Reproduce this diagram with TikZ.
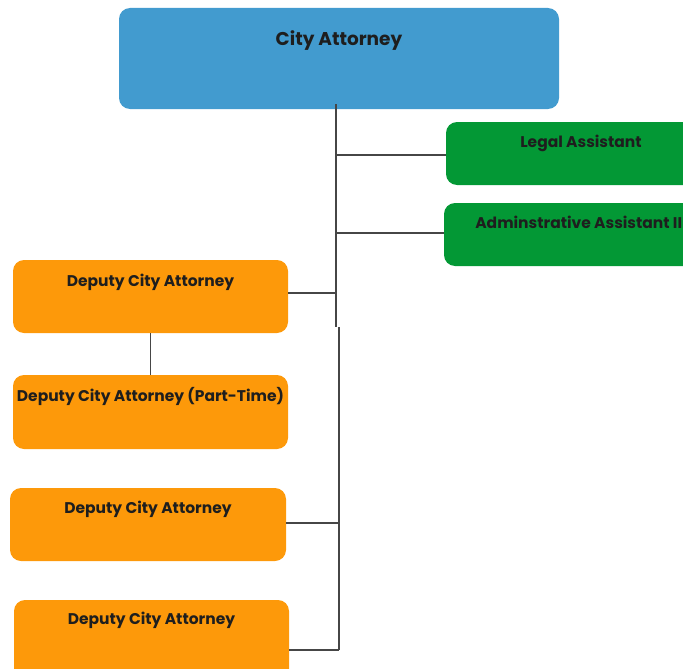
\documentclass[tikz,border=0pt]{standalone}
\usepackage{fontspec}
\setmainfont{Poppins}
\definecolor{cablue}{RGB}{66,155,207}
\definecolor{cagreen}{RGB}{3,152,53}
\definecolor{caorange}{RGB}{253,153,10}
\definecolor{catext}{RGB}{30,30,30}
\definecolor{caline}{RGB}{70,70,70}
\tikzset{
  box/.style={rounded corners=11pt, inner sep=0pt, draw=none},
  bluebox/.style={box, fill=cablue},
  greenbox/.style={box, fill=cagreen},
  orangebox/.style={box, fill=caorange},
  lbl/.style={anchor=north, inner sep=0pt, text=catext, font=\fontsize{15.5}{17}\selectfont\bfseries},
  biglbl/.style={lbl, font=\fontsize{18.5}{20}\selectfont\bfseries},
  conn/.style={draw=caline, line width=1.4pt}
}
\begin{document}
\begin{tikzpicture}[x=1pt,y=-1pt]
\useasboundingbox (0,0) rectangle (683,669);
% boxes
\path[bluebox] (119,8) rectangle (559,109);
\node[inner sep=0pt] (ca) at (339,58.5) [minimum width=440pt, minimum height=101pt] {};
\path[greenbox] (446,122) rectangle (716,185);
\node[inner sep=0pt, minimum width=270pt, minimum height=63pt] (la) at (581,153.5) {};
\path[greenbox] (444,203) rectangle (718,266);
\node[inner sep=0pt, minimum width=274pt, minimum height=63pt] (aa) at (581,234.5) {};
\path[orangebox] (13,260) rectangle (288,333);
\node[inner sep=0pt, minimum width=275pt, minimum height=73pt] (d1) at (150.5,296.5) {};
\path[orangebox] (13,375) rectangle (288,449);
\node[inner sep=0pt, minimum width=275pt, minimum height=74pt] (dp) at (150.5,412) {};
\path[orangebox] (10,488) rectangle (286,561);
\node[inner sep=0pt, minimum width=276pt, minimum height=73pt] (d3) at (148,524.5) {};
\path[orangebox] (14,600) rectangle (289,700);
\node[inner sep=0pt, minimum width=275pt, minimum height=100pt] (d4) at (151.5,650) {};
% labels
\node[biglbl] (tca) at ([yshift=-22.5pt]ca.north) {City Attorney};
\node[lbl] (tla) at ([yshift=-13.4pt]la.north) {Legal Assistant};
\node[lbl] (taa) at ([yshift=-13.4pt]aa.north) {Adminstrative Assistant III};
\node[lbl] (td1) at ([yshift=-14.5pt]d1.north) {Deputy City Attorney};
\node[lbl] (tdp) at ([yshift=-12.4pt]dp.north) {Deputy City Attorney (Part-Time)};
\node[lbl] (td3) at ([yshift=-13.4pt]d3.north) {Deputy City Attorney};
\node[lbl] (td4) at ([yshift=-12.4pt]d4.north) {Deputy City Attorney};
% trunk
\coordinate (t0) at (336,104);
\coordinate (t1) at (336,327);
\coordinate (t2) at (339,327);
\coordinate (t3) at (339,650);
\coordinate (jla) at (336,155);
\coordinate (jaa) at (336,233);
\coordinate (jd1) at (335,293);
\coordinate (jd3) at (338,523);
\draw[conn] (t0) -- (t1);
\draw[conn] (t2) -- (t3);
\draw[conn] (jla) -- (jla -| la.west);
\draw[conn] (jaa) -- (jaa -| aa.west);
\draw[conn] (jd1) -- (jd1 -| d1.east);
\draw[conn] (jd3) -- (jd3 -| d3.east);
\draw[conn] (t3) -- (t3 -| d4.east);
\draw[conn] (d1.south) -- (dp.north);
\end{tikzpicture}
\end{document}
